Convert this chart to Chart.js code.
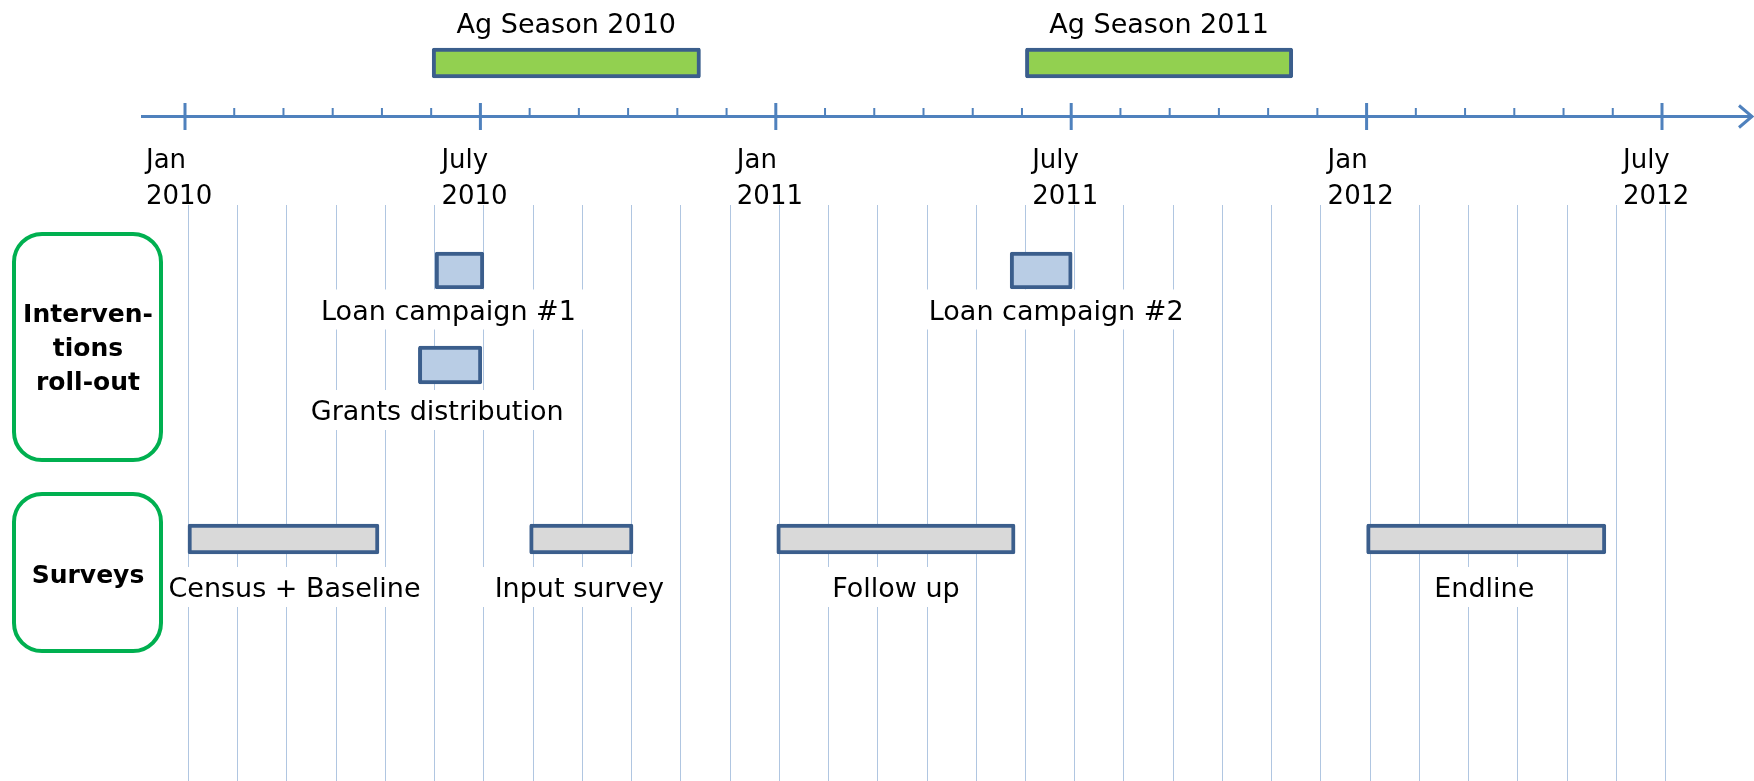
<!DOCTYPE html>
<html>
<head>
<meta charset="utf-8">
<script src="https://cdn.jsdelivr.net/npm/chart.js@4.4.1/dist/chart.umd.min.js"></script>
<style>
  html, body { margin: 0; padding: 0; background: #fff; }
  #wrap { width: 1754px; height: 781px; }
</style>
</head>
<body>
<div id="wrap"><canvas id="timeline" width="1754" height="781"></canvas></div>
<script>
// months counted from Jan 2010 (0) to July 2012 (30)
const axisMonths = [0, 6, 12, 18, 24, 30];
const axisLabels = [['Jan', '2010'], ['July', '2010'], ['Jan', '2011'], ['July', '2011'], ['Jan', '2012'], ['July', '2012']];

const seasonNames = ['Ag Season 2010', 'Ag Season 2011'];
const seasonStart = [5.02, 17.07];
const seasonEnd = [10.47, 22.5];

const interventionNames = ['Loan campaign #1', 'Loan campaign #2', 'Grants distribution'];
const interventionLane = ['loan', 'loan', 'grants'];
const interventionStart = [5.08, 16.76, 4.74];
const interventionEnd = [6.07, 18.02, 6.03];

const surveyNames = ['Census + Baseline', 'Input survey', 'Follow up', 'Endline'];
const surveyStart = [0.06, 7.0, 12.02, 24.0];
const surveyEnd = [3.94, 9.1, 16.86, 28.86];

const groupNames = [['Interven-', 'tions', 'roll-out'], ['Surveys']];

// layout: lane centres on the (pixel-like) y scale, label offsets under bars
const LANE = { season: 63, loan: 270.5, grants: 365, surveys: 539 };
const LABEL_DY = { loan: 32, grants: 38, surveys: 41 };
// small horizontal nudges of the text boxes, in px
const INTERVENTION_DX = [-11, 15, -13];
const SURVEY_DX = [11, -2, 0, -2];
const FONT = '"DejaVu Sans", sans-serif';
const OUTLINE = '#3B5E8C';
const AXIS_BLUE = '#4F81BD';

const toBars = (starts, ends, lanes) =>
    starts.map((s, i) => ({ x: [s, ends[i]], y: LANE[Array.isArray(lanes) ? lanes[i] : lanes] }));

const barStyle = {
    borderColor: OUTLINE,
    borderWidth: 4,
    borderSkipped: false,
    borderRadius: 2,
    grouped: false
};

const timelinePlugin = {
    id: 'timeline',
    beforeDatasetsDraw(chart) {
        const { ctx, scales: { x } } = chart;
        ctx.save();
        // monthly grid lines
        ctx.strokeStyle = 'rgba(79,129,189,0.45)';
        ctx.lineWidth = 1;
        for (let m = 0; m <= 30; m++) {
            const px = Math.round(x.getPixelForValue(m)) + 3.5;
            ctx.beginPath();
            ctx.moveTo(px, 205);
            ctx.lineTo(px, 781);
            ctx.stroke();
        }
        ctx.restore();
    },
    afterDatasetsDraw(chart) {
        const { ctx, scales: { x, y } } = chart;
        ctx.save();

        // labels under bars, on white so the grid is broken behind them
        const labelUnder = (text, s, e, laneKey, dx) => {
            ctx.font = '27px ' + FONT;
            const cx = (x.getPixelForValue(s) + x.getPixelForValue(e)) / 2 + dx;
            const bottom = y.getPixelForValue(LANE[laneKey]) + 17;
            const base = bottom + LABEL_DY[laneKey];
            const w = ctx.measureText(text).width + 24;
            ctx.fillStyle = '#fff';
            ctx.fillRect(cx - w / 2, base - 30, w, 40);
            ctx.fillStyle = '#000';
            ctx.textAlign = 'center';
            ctx.textBaseline = 'alphabetic';
            ctx.fillText(text, cx, base);
        };
        interventionNames.forEach((n, i) => labelUnder(n, interventionStart[i], interventionEnd[i], interventionLane[i], INTERVENTION_DX[i]));
        surveyNames.forEach((n, i) => labelUnder(n, surveyStart[i], surveyEnd[i], 'surveys', SURVEY_DX[i]));

        // season labels above the green bars
        ctx.font = '27px ' + FONT;
        ctx.fillStyle = '#000';
        ctx.textAlign = 'center';
        seasonNames.forEach((n, i) => {
            const cx = (x.getPixelForValue(seasonStart[i]) + x.getPixelForValue(seasonEnd[i])) / 2;
            ctx.fillText(n, cx, 33);
        });

        // time axis with arrow
        const ay = 116.5;
        ctx.strokeStyle = AXIS_BLUE;
        ctx.lineWidth = 3;
        ctx.beginPath();
        ctx.moveTo(141, ay);
        ctx.lineTo(1751, ay);
        ctx.stroke();
        ctx.beginPath();
        ctx.moveTo(1739, ay - 11);
        ctx.lineTo(1752, ay);
        ctx.lineTo(1739, ay + 11);
        ctx.stroke();

        for (let m = 0; m <= 30; m++) {
            const px = x.getPixelForValue(m);
            ctx.beginPath();
            if (axisMonths.includes(m)) {
                ctx.lineWidth = 3;
                ctx.moveTo(px, 103);
                ctx.lineTo(px, 130);
            } else {
                ctx.lineWidth = 2;
                ctx.moveTo(px, 108);
                ctx.lineTo(px, ay);
            }
            ctx.stroke();
        }

        ctx.font = '26px ' + FONT;
        ctx.fillStyle = '#000';
        ctx.textAlign = 'left';
        axisMonths.forEach((m, i) => {
            const px = x.getPixelForValue(m) - 39;
            ctx.fillText(axisLabels[i][0], px, 168);
            ctx.fillText(axisLabels[i][1], px, 204);
        });

        // group boxes on the left
        const groupBox = (top, bottom, lines, baselines) => {
            ctx.strokeStyle = '#00B050';
            ctx.lineWidth = 4;
            ctx.beginPath();
            ctx.roundRect(14, top, 147, bottom - top, 28);
            ctx.stroke();
            ctx.font = 'bold 25px ' + FONT;
            ctx.fillStyle = '#000';
            ctx.textAlign = 'center';
            lines.forEach((l, i) => ctx.fillText(l, 88, baselines[i]));
        };
        groupBox(234, 460, groupNames[0], [322, 356, 390]);
        groupBox(494, 651, groupNames[1], [583]);

        ctx.restore();
    }
};

new Chart(document.getElementById('timeline'), {
    type: 'bar',
    data: {
        datasets: [
            Object.assign({ label: 'Ag seasons', data: toBars(seasonStart, seasonEnd, 'season'), backgroundColor: '#92D050', barThickness: 30 }, barStyle),
            Object.assign({ label: 'Loans', data: toBars(interventionStart.slice(0, 2), interventionEnd.slice(0, 2), interventionLane.slice(0, 2)), backgroundColor: '#B9CDE5', barThickness: 37 }, barStyle),
            Object.assign({ label: 'Grants', data: toBars(interventionStart.slice(2), interventionEnd.slice(2), interventionLane.slice(2)), backgroundColor: '#B9CDE5', barThickness: 38 }, barStyle),
            Object.assign({ label: 'Surveys', data: toBars(surveyStart, surveyEnd, 'surveys'), backgroundColor: '#D9D9D9', barThickness: 30 }, barStyle)
        ]
    },
    options: {
        indexAxis: 'y',
        responsive: false,
        animation: false,
        events: [],
        layout: { padding: { left: 185, right: 92, top: 0, bottom: 0 } },
        plugins: {
            legend: { display: false },
            tooltip: { enabled: false },
            title: { display: false }
        },
        scales: {
            x: { type: 'linear', min: 0, max: 30, display: false },
            y: { type: 'linear', min: 0, max: 781, reverse: true, offset: false, display: false }
        }
    },
    plugins: [timelinePlugin]
});
</script>
</body>
</html>
